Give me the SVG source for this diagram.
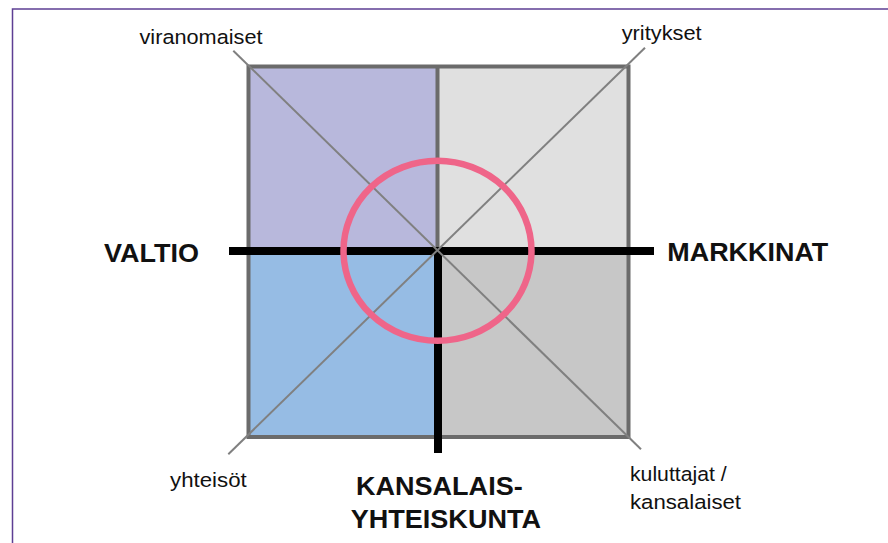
<svg xmlns="http://www.w3.org/2000/svg" width="888" height="543" viewBox="0 0 888 543">
  <style>
    .frame { fill: none; stroke: #5e3f94; stroke-width: 1.5; }
    .quad { stroke: none; }
    .outline { fill: none; stroke: #6b6b6b; stroke-width: 4; }
    .divider { stroke: #6b6b6b; stroke-width: 4; }
    .diag { stroke: #808080; stroke-width: 2; }
    .axis { stroke: #000000; stroke-width: 8; }
    .ring { fill: none; stroke: #ef6589; stroke-width: 6.5; }
    .small { font-family: "Liberation Sans", Arial, sans-serif; font-size: 20.5px; fill: #111111; }
    .big { font-family: "Liberation Sans", Arial, sans-serif; font-size: 26px; font-weight: bold; fill: #111111; }
  </style>
  <rect x="0" y="0" width="888" height="543" fill="#ffffff"/>
  <path class="frame" d="M12.5,543 L12.5,9 L888,9"/>

  <g id="quadrants">
    <rect id="q-top-left" class="quad" x="248.5" y="66.5" width="189" height="184.5" fill="#b8b8dc"/>
    <rect id="q-top-right" class="quad" x="437.5" y="66.5" width="191" height="184.5" fill="#e0e0e0"/>
    <rect id="q-bottom-left" class="quad" x="248.5" y="251" width="189" height="186" fill="#96bce4"/>
    <rect id="q-bottom-right" class="quad" x="437.5" y="251" width="191" height="186" fill="#c7c7c7"/>
    <line class="divider" x1="437.5" y1="66.5" x2="437.5" y2="251"/>
    <rect class="outline" x="248.5" y="66.5" width="380" height="370.5"/>
  </g>

  <g id="connectors">
    <line class="axis" x1="229" y1="251" x2="654" y2="251"/>
    <line class="axis" x1="438" y1="251" x2="438" y2="453"/>
    <line class="diag" x1="233.3" y1="50.7" x2="641" y2="449.3"/>
    <line class="diag" x1="645" y1="47.7" x2="228.3" y2="454.3"/>
  </g>

  <g id="center-circle">
    <ellipse class="ring" cx="437.5" cy="250.8" rx="94" ry="90"/>
  </g>

  <g id="label-viranomaiset">
    <text class="small" x="139.5" y="44" textLength="123" lengthAdjust="spacingAndGlyphs">viranomaiset</text>
  </g>
  <g id="label-yritykset">
    <text class="small" x="621.7" y="39.5" textLength="80" lengthAdjust="spacingAndGlyphs">yritykset</text>
  </g>
  <g id="label-yhteisot">
    <text class="small" x="170" y="487" textLength="76.7" lengthAdjust="spacingAndGlyphs">yhteisöt</text>
  </g>
  <g id="label-kuluttajat">
    <text class="small" x="630" y="481" textLength="96.7" lengthAdjust="spacingAndGlyphs">kuluttajat /</text>
    <text class="small" x="630" y="508.5" textLength="111" lengthAdjust="spacingAndGlyphs">kansalaiset</text>
  </g>
  <g id="label-valtio">
    <text class="big" x="104" y="261.5" textLength="95" lengthAdjust="spacingAndGlyphs">VALTIO</text>
  </g>
  <g id="label-markkinat">
    <text class="big" x="667.3" y="261" textLength="161" lengthAdjust="spacingAndGlyphs">MARKKINAT</text>
  </g>
  <g id="label-kansalaisyhteiskunta">
    <text class="big" x="356" y="495" textLength="166.7" lengthAdjust="spacingAndGlyphs">KANSALAIS-</text>
    <text class="big" x="350.7" y="528.3" textLength="190.3" lengthAdjust="spacingAndGlyphs">YHTEISKUNTA</text>
  </g>
</svg>
